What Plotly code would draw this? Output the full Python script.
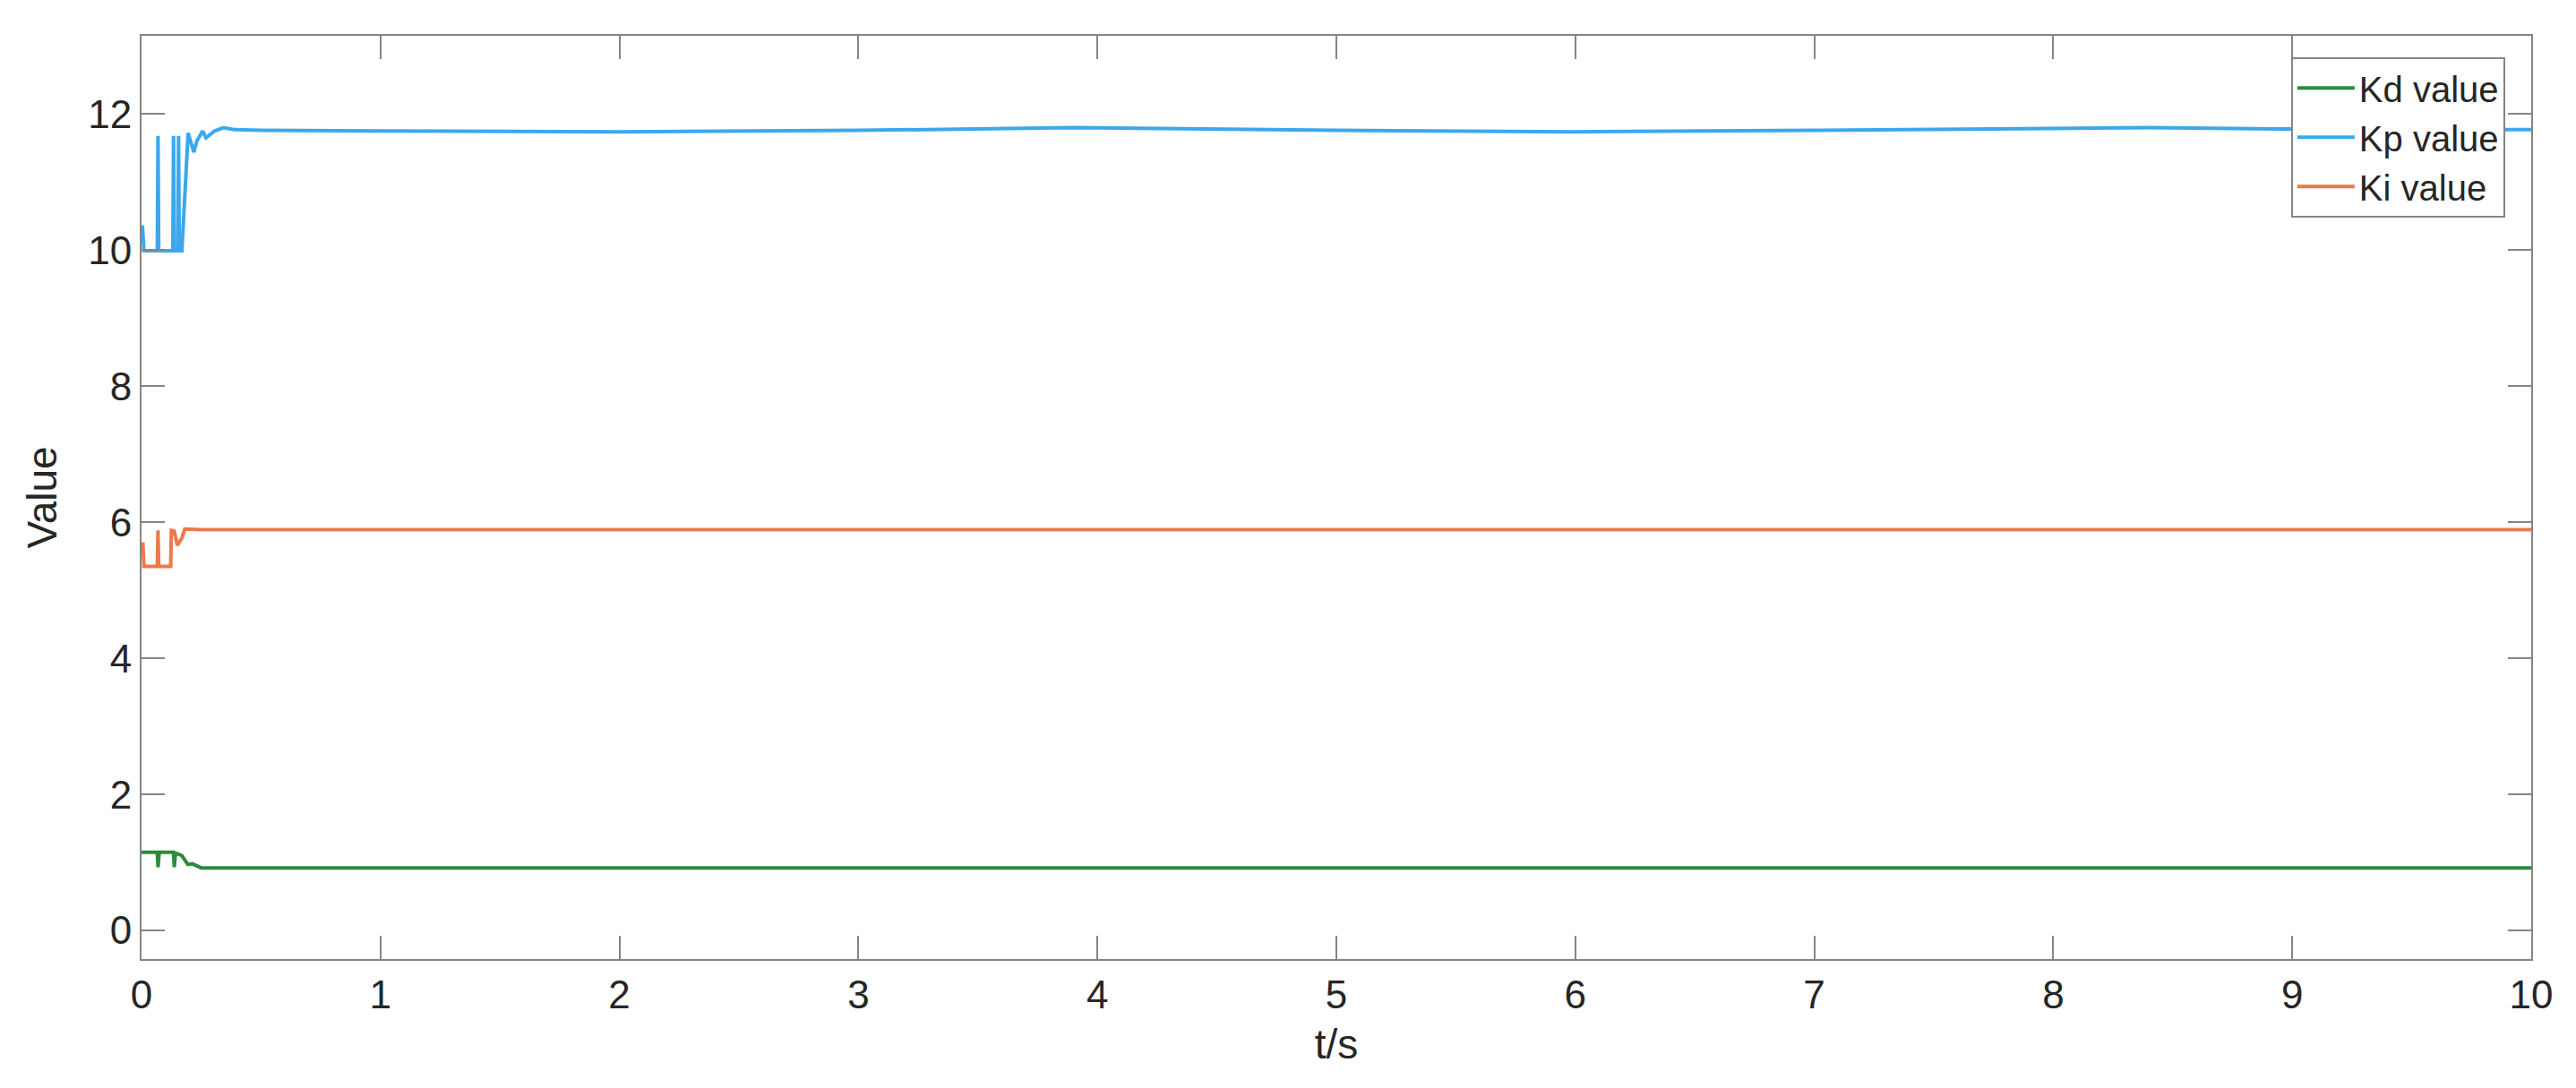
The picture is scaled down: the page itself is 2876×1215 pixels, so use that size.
import plotly.graph_objects as go

# time samples (s) and gain values
t_kp = [0, 0.004, 0.01, 0.066, 0.069, 0.072, 0.131, 0.134, 0.137, 0.152, 0.155, 0.158, 0.169,
        0.1875, 0.195, 0.219, 0.231, 0.256, 0.27, 0.305, 0.343, 0.39, 0.5,
        1, 2, 3, 3.9, 5, 6, 7, 8.4, 9, 10]
kp = [10.34, 10.34, 9.99, 9.99, 11.68, 9.99, 9.99, 11.68, 9.99, 9.99, 11.68, 9.99, 9.99,
      11.37, 11.72, 11.44, 11.6, 11.75, 11.65, 11.75, 11.8, 11.77, 11.76,
      11.75, 11.74, 11.76, 11.8, 11.76, 11.74, 11.76, 11.8, 11.78, 11.77]

t_ki = [0, 0.006, 0.01, 0.066, 0.069, 0.072, 0.122, 0.125, 0.137, 0.15, 0.169, 0.181, 0.25,
        1, 4, 7, 10]
ki = [5.68, 5.68, 5.35, 5.35, 5.88, 5.35, 5.35, 5.88, 5.87, 5.66, 5.77, 5.9, 5.89,
      5.89, 5.89, 5.89, 5.89]

t_kd = [0, 0.066, 0.069, 0.074, 0.134, 0.137, 0.142, 0.169, 0.194, 0.212, 0.25, 0.35,
        1, 4, 7, 10]
kd = [1.15, 1.15, 0.93, 1.15, 1.15, 0.93, 1.14, 1.10, 0.97, 0.98, 0.92, 0.92,
      0.92, 0.92, 0.92, 0.92]

x_ticks = list(range(0, 11))
y_ticks = [0, 2, 4, 6, 8, 10, 12]

fig = go.Figure()
fig.add_trace(go.Scatter(x=t_kd, y=kd, mode='lines', name='Kd value',
                         line=dict(color='#2b8a3c', width=4)))
fig.add_trace(go.Scatter(x=t_kp, y=kp, mode='lines', name='Kp value',
                         line=dict(color='#3ba8ec', width=4)))
fig.add_trace(go.Scatter(x=t_ki, y=ki, mode='lines', name='Ki value',
                         line=dict(color='#ec7a4c', width=4)))

axis_style = dict(
    showgrid=False, zeroline=False,
    showline=True, linecolor='#858585', linewidth=2, mirror='allticks',
    ticks='inside', ticklen=26, tickwidth=2, tickcolor='#858585',
    tickfont=dict(size=44, color='#262626'),
)

fig.update_layout(
    width=2876, height=1215,
    margin=dict(l=150, r=58, t=32, b=152),
    paper_bgcolor='white', plot_bgcolor='white',
    font=dict(family='Liberation Sans, Arial, sans-serif', color='#262626'),
    xaxis=dict(range=[0, 10], tickvals=x_ticks,
               title=dict(text='t/s', font=dict(size=46), standoff=16), **axis_style),
    yaxis=dict(range=[-0.42, 13.15], tickvals=y_ticks,
               title=dict(text='Value', font=dict(size=46), standoff=20), **axis_style),
    legend=dict(x=0.8995, y=0.977, xanchor='left', yanchor='top',
                bgcolor='white', bordercolor='#858585', borderwidth=2,
                itemwidth=64,
                font=dict(size=40, color='#262626'), tracegroupgap=0),
    showlegend=True,
    hovermode='closest',
)

fig.write_html("out.html")
